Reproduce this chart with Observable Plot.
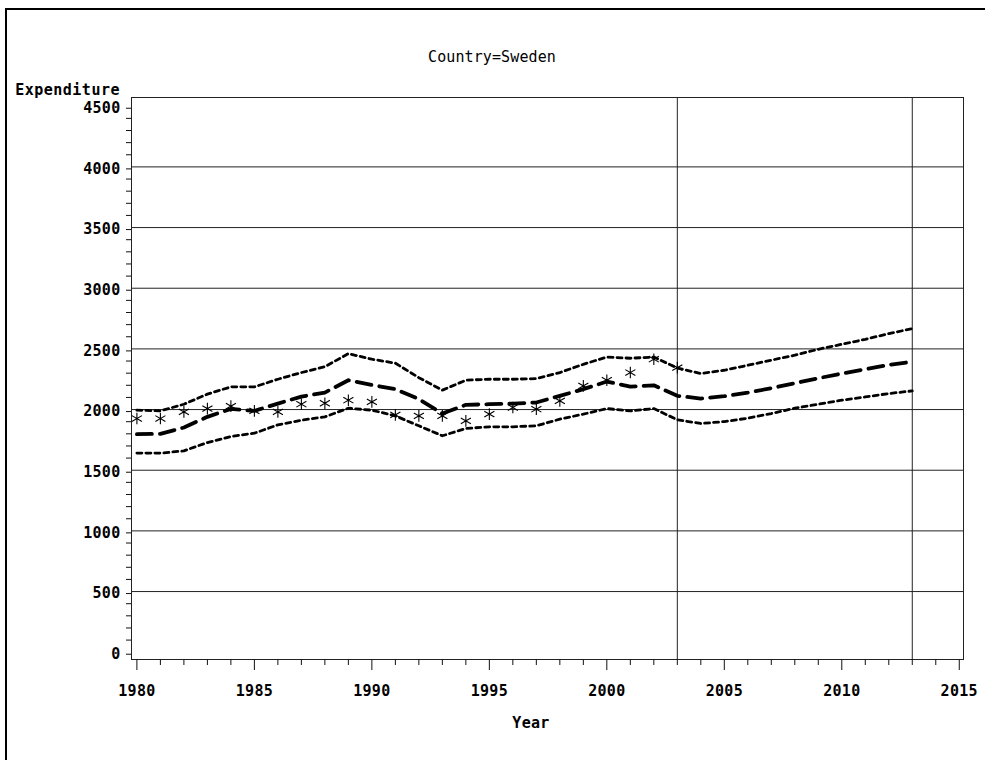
<!DOCTYPE html>
<html>
<head>
<meta charset="utf-8">
<script src="https://cdn.jsdelivr.net/npm/d3@7"></script>
<script src="https://cdn.jsdelivr.net/npm/@observablehq/plot@0.6"></script>
<style>
  body { margin: 0; background: #fff; }
  #page { position: relative; width: 985px; height: 760px; overflow: hidden; background: #fff; }
  #border { position: absolute; left: 5px; top: 8px; width: 2000px; height: 2000px;
            border-left: 2px solid #000; border-top: 2px solid #000; }
  #chart { position: absolute; left: 0; top: 0; }
  #chart svg text { letter-spacing: 0.3px; }
</style>
</head>
<body>
<div id="page"><div id="border"></div><div id="chart"></div></div>
<script>
// Sweden: observed expenditure with fitted values and confidence band
const years = [1980, 1981, 1982, 1983, 1984, 1985, 1986, 1987, 1988, 1989,
               1990, 1991, 1992, 1993, 1994, 1995, 1996, 1997, 1998, 1999,
               2000, 2001, 2002, 2003, 2004, 2005, 2006, 2007, 2008, 2009,
               2010, 2011, 2012, 2013];

const observed = [1926, 1926, 1981, 2008, 2028, 1989, 1981, 2044, 2052, 2077,
                  2063, 1956, 1948, 1948, 1907, 1962, 2017, 2003, 2072, 2195,
                  2242, 2305, 2415, 2346];

const predicted = [1797, 1800, 1852, 1940, 2005, 1989, 2049, 2107, 2140, 2242,
                   2203, 2168, 2086, 1967, 2039, 2044, 2049, 2058, 2113, 2168,
                   2231, 2189, 2200, 2113, 2091, 2110, 2140, 2176, 2217, 2258,
                   2297, 2332, 2368, 2395];

const upper = [1995, 1989, 2044, 2127, 2187, 2187, 2250, 2305, 2353, 2461,
               2415, 2382, 2263, 2160, 2242, 2250, 2250, 2255, 2305, 2373,
               2433, 2423, 2433, 2342, 2297, 2324, 2365, 2407, 2448, 2497,
               2538, 2579, 2626, 2667];

const lower = [1641, 1641, 1660, 1728, 1778, 1805, 1874, 1912, 1940, 2011,
               1995, 1948, 1866, 1784, 1844, 1858, 1858, 1866, 1921, 1962,
               2008, 1989, 2008, 1916, 1885, 1901, 1929, 1967, 2011, 2044,
               2077, 2104, 2132, 2154];

const xMajorTicks = [1980, 1985, 1990, 1995, 2000, 2005, 2010, 2015];
const xMinorTicks = [1981, 1982, 1983, 1984, 1986, 1987, 1988, 1989, 1991, 1992,
                     1993, 1994, 1996, 1997, 1998, 1999, 2001, 2002, 2003, 2004,
                     2006, 2007, 2008, 2009, 2011, 2012, 2013, 2014];
const yMajorTicks = [0, 500, 1000, 1500, 2000, 2500, 3000, 3500, 4000, 4500];
const yMinorTicks = [100, 200, 300, 400, 600, 700, 800, 900, 1100, 1200, 1300, 1400,
                     1600, 1700, 1800, 1900, 2100, 2200, 2300, 2400, 2600, 2700,
                     2800, 2900, 3100, 3200, 3300, 3400, 3600, 3700, 3800, 3900,
                     4100, 4200, 4300, 4400];
const yGrid = [500, 1000, 1500, 2000, 2500, 3000, 3500, 4000];
const refYears = [2003, 2013];

const fit = years.map((year, i) => ({year, predicted: predicted[i], upper: upper[i], lower: lower[i]}));
const obs = observed.map((value, i) => ({year: years[i], value}));

const ink = "#111";
const fontFamily = "'DejaVu Sans Mono', 'Liberation Mono', monospace";

const chart = Plot.plot({
  width: 985,
  height: 760,
  marginLeft: 131,
  marginRight: 22,
  marginTop: 97,
  marginBottom: 101,
  style: {fontFamily, fontSize: "15px", fontWeight: "bold", color: "#000", background: "transparent"},
  x: {domain: [1979.77, 2015.18]},
  y: {domain: [-60, 4572]},
  marks: [
    Plot.ruleY(yGrid, {stroke: "#222", strokeWidth: 1}),
    Plot.ruleX(refYears, {stroke: "#222", strokeWidth: 1}),
    Plot.frame({stroke: "#222", strokeWidth: 1}),
    Plot.axisX({ticks: xMinorTicks, tickSize: 6, tickFormat: () => "", label: null, stroke: ink}),
    Plot.axisX({ticks: xMajorTicks, tickSize: 11, tickPadding: 15, tickFormat: d => String(d),
                label: null, stroke: ink, fill: "#000"}),
    Plot.axisY({ticks: yMinorTicks, tickSize: 5, tickFormat: () => "", label: null, stroke: ink}),
    Plot.axisY({ticks: yMajorTicks, tickSize: 5, tickPadding: 6, tickFormat: d => String(d),
                label: null, stroke: ink, fill: "#000", dy: 2}),
    Plot.line(fit, {x: "year", y: "upper", stroke: "#000", strokeWidth: 2.8, strokeDasharray: "5,4"}),
    Plot.line(fit, {x: "year", y: "lower", stroke: "#000", strokeWidth: 2.8, strokeDasharray: "5,4"}),
    Plot.line(fit, {x: "year", y: "predicted", stroke: "#000", strokeWidth: 3.8, strokeDasharray: "15,8"}),
    Plot.dot(obs, {x: "year", y: "value", symbol: "asterisk", r: 5.5, stroke: "#000", strokeWidth: 1.1})
  ]
});

const svg = d3.select(chart);
svg.append("text")
  .attr("x", 492).attr("y", 62)
  .attr("text-anchor", "middle")
  .attr("font-weight", "normal")
  .attr("font-size", 15)
  .attr("fill", "#000")
  .style("letter-spacing", "0.1px")
  .text("Country=Sweden");
svg.append("text")
  .attr("x", 120).attr("y", 95)
  .attr("text-anchor", "end")
  .attr("font-size", 15)
  .attr("fill", "#000")
  .style("letter-spacing", "0.5px")
  .text("Expenditure");
svg.append("text")
  .attr("x", 531).attr("y", 728)
  .attr("text-anchor", "middle")
  .attr("font-size", 15)
  .attr("fill", "#000")
  .text("Year");

document.getElementById("chart").appendChild(chart);
</script>
</body>
</html>
